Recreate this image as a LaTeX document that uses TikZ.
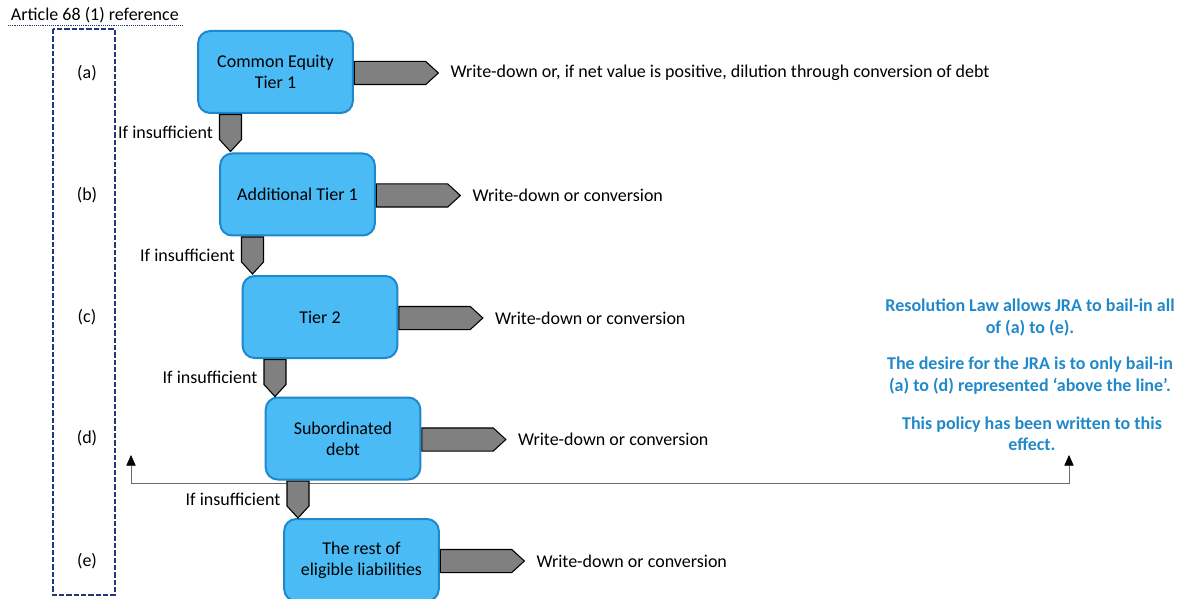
\documentclass[tikz,border=0pt]{standalone}
\usepackage{fontspec}
\setmainfont{Carlito}
\usepackage{tikz}
\usetikzlibrary{shapes.arrows,arrows.meta,positioning}
\definecolor{tierfill}{RGB}{75,187,245}
\definecolor{tierline}{RGB}{30,136,204}
\definecolor{notecol}{RGB}{33,137,201}
\definecolor{refcol}{RGB}{31,56,120}
\tikzstyle{tierbox}=[rectangle, draw=tierline, fill=tierfill, line width=1.5pt, rounded corners=9pt, minimum width=116pt, minimum height=61.5pt, align=center, font=\fontsize{13.5}{16}\selectfont]
\tikzstyle{outarrow}=[single arrow, draw=black, fill=gray, line width=0.8pt, single arrow head extend=0pt, single arrow tip angle=85, minimum width=16.5pt, minimum height=63pt, inner xsep=0pt, inner ysep=8.25pt, anchor=tail]
\tikzstyle{downarrow}=[outarrow, shape border rotate=270, minimum height=27.75pt]
\tikzstyle{plain}=[font=\fontsize{13.5}{16}\selectfont]
\tikzstyle{note}=[font=\fontsize{13.5}{16}\selectfont\bfseries, text=notecol, align=center]

\begin{document}
\begin{tikzpicture}[x=0.75pt,y=-0.75pt]
	\useasboundingbox (0,0) rectangle (1189,599);

	%%% reference column
	\node[plain,anchor=west,inner sep=2pt] (artLabel) at (8,15) {Article 68 (1) reference};
	\draw[refcol,densely dotted,thin] (artLabel.south west) -- (artLabel.south east);
	\draw[refcol,line width=1.1pt,dash pattern=on 4pt off 1.5pt] (53,29) rectangle (115,595);

	\node[plain] (refA) at (87,73) {(a)};
	\node[plain] (refB) at (87,195) {(b)};
	\node[plain] (refC) at (87,317) {(c)};
	\node[plain] (refD) at (87,438) {(d)};
	\node[plain] (refE) at (87,561) {(e)};

	% the line
	\coordinate (lineL) at (131,483);
	\coordinate (lineR) at (1069,483);
	\coordinate (tipL) at (131,455);
	\coordinate (tipR) at (1069,455);
	\draw[gray!85!black,thin,{Triangle[black,length=8pt,width=7pt]}-{Triangle[black,length=8pt,width=7pt]}] (tipL) -- (lineL) -- (lineR) -- (tipR);

	%%% tiers
	\node[tierbox] (cet1) at (275.5,72) {Common Equity\\Tier 1};
	\node[tierbox] (at1) at (297.5,194.5) {Additional Tier 1};
	\node[tierbox] (tier2) at (320,317) {Tier 2};
	\node[tierbox] (subdebt) at (343,438.5) {Subordinated\\debt};
	\node[tierbox] (rest) at (361.5,560) {The rest of\\eligible liabilities};

	% outputs
	\node[outarrow] (cet1Out) at ([yshift=-0.75pt]cet1.east) {};
	\node[outarrow] (at1Out) at ([yshift=-0.75pt]at1.east) {};
	\node[outarrow] (tier2Out) at ([yshift=-0.75pt]tier2.east) {};
	\node[outarrow] (subdebtOut) at ([yshift=-0.75pt]subdebt.east) {};
	\node[outarrow] (restOut) at ([yshift=-0.75pt]rest.east) {};

	\node[plain,right=5pt of cet1Out.tip] (cet1Text) {Write-down or, if net value is positive, dilution through conversion of debt};
	\node[plain,right=5pt of at1Out.tip] (at1Text) {Write-down or conversion};
	\node[plain,right=5pt of tier2Out.tip] (tier2Text) {Write-down or conversion};
	\node[plain,right=5pt of subdebtOut.tip] (subdebtText) {Write-down or conversion};
	\node[plain,right=5pt of restOut.tip] (restText) {Write-down or conversion};

	% if insufficient
	\node[downarrow] (cet1Down) at ([xshift=25pt]cet1.south west) {};
	\node[downarrow] (at1Down) at ([xshift=25pt]at1.south west) {};
	\node[downarrow] (tier2Down) at ([xshift=25pt]tier2.south west) {};
	\node[downarrow] (subdebtDown) at ([xshift=25pt]subdebt.south west) {};

	\node[plain,left=1pt of cet1Down,yshift=-4pt] {If insufficient};
	\node[plain,left=1pt of at1Down,yshift=-4pt] {If insufficient};
	\node[plain,left=1pt of tier2Down,yshift=-4pt] {If insufficient};
	\node[plain,left=1pt of subdebtDown,yshift=-4pt] {If insufficient};

	%%% note
	\node[note] (noteLaw) at (1030,317.5) {Resolution Law allows JRA to bail-in all\\of (a) to (e).};
	\node[note] (noteDesire) at (1030,375.5) {The desire for the JRA is to only bail-in\\(a) to (d) represented ‘above the line’.};
	\node[note] (notePolicy) at (1032,433.5) {This policy has been written to this\\effect.};
\end{tikzpicture}
\end{document}
